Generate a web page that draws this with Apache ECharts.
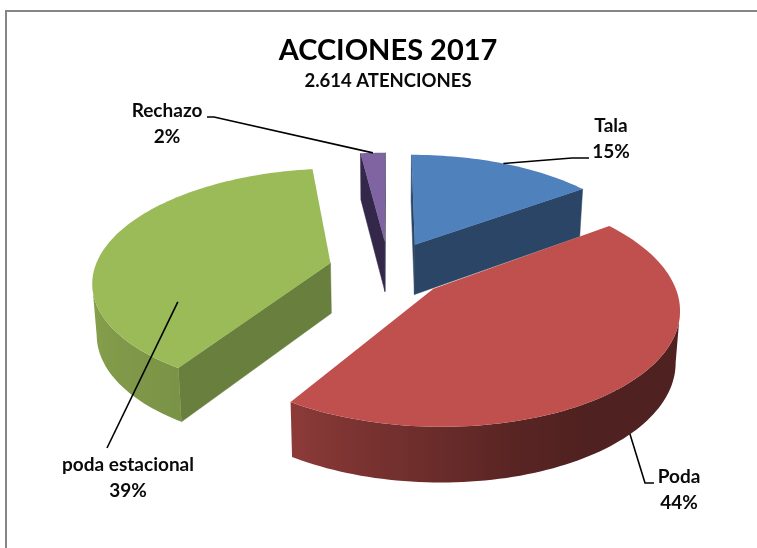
<!DOCTYPE html>
<html>
<head>
<meta charset="utf-8">
<style>html,body{margin:0;padding:0;background:#fff}#c{width:757px;height:548px}</style>
<script src="https://cdn.jsdelivr.net/npm/echarts@6/dist/echarts.min.js"></script>
</head>
<body>
<div id="c"></div>
<script>
// ---- data ----
var titleText = 'ACCIONES 2017';
var subtitleText = '2.614 ATENCIONES';
var categories = ['Tala', 'Poda', 'poda estacional', 'Rechazo'];
var percents = [15, 44, 39, 2];

// ---- styling (no data) ----
var topColors  = ['#4f81bd', '#c0504d', '#9bbb59', '#8064a2'];
var wallColors = ['#2a4565', '#4f2120', '#687f3d', '#33284a'];
var rimColors  = ['#4f81bd', '#c0504d', '#a8c960', '#8064a2'];
// brightness of the outer rim by pie angle (degrees clockwise from top)
var shadeAngles = [0, 148, 165, 190, 212, 270, 360];
var shadeValues = [0.41, 0.41, 0.46, 0.6, 0.73, 0.82, 0.82];

// ---- 3D pie projection ----
var view = { cx: 388.5, cy: 269, R: 236, squash: 0.468, persp: 0.152, explode: 0.254, depth: 50.5, lowerScale: 0.985 };

// ---- label layout: where the text sits, and the leader's bend and end ----
var labelX = [611, 679, 128, 167];
var labelY = [139, 490, 478, 124];
var leaderBend = [[572, 158], [645, 483], null, [214, 117]];
var leaderEnd  = [[589, 158], [654, 483], [107, 448], [207, 117]];
var leaderAngleShift = [0, 6.8, -41.9, 0];   // degrees from the slice bisector
var leaderRadius = [1, 1, 0.695, 1];
var leaderBehind = [false, true, false, false];

var total = percents.reduce(function (a, b) { return a + b; }, 0);
var rad = Math.PI / 180;

function project(u, v) {
  var w = 1 - view.persp * v;
  return { x: view.cx + view.R * u / w, y: view.cy + view.R * view.squash * v / w, w: w };
}
function upper(p) { return [p.x, p.y]; }
function lower(p) {
  return [view.cx + (p.x - view.cx) * view.lowerScale, p.y + view.depth / Math.sqrt(p.w)];
}
function shadeAt(a) {
  for (var i = 1; i < shadeAngles.length; i++) {
    if (a <= shadeAngles[i]) {
      var t = (a - shadeAngles[i - 1]) / (shadeAngles[i] - shadeAngles[i - 1]);
      return shadeValues[i - 1] + t * (shadeValues[i] - shadeValues[i - 1]);
    }
  }
  return shadeValues[shadeValues.length - 1];
}
function shadeColor(hex, f) {
  var n = parseInt(hex.slice(1), 16);
  return 'rgb(' + Math.round((n >> 16 & 255) * f) + ',' + Math.round((n >> 8 & 255) * f) + ',' + Math.round((n & 255) * f) + ')';
}

function renderSlice(params, api) {
  var i = params.dataIndex;
  var value = api.value(1);
  var before = 0;
  for (var k = 0; k < i; k++) before += percents[k];
  var a0 = before / total * 360, a1 = a0 + value / total * 360, mid = (a0 + a1) / 2;
  var ex = view.explode * Math.sin(mid * rad), ey = -view.explode * Math.cos(mid * rad);
  var at = function (a, r) {
    return project(ex + r * Math.sin(a * rad), ey - r * Math.cos(a * rad));
  };
  var apex = project(ex, ey);
  var arc = [], arcAngles = [];
  for (var a = a0; a < a1; a += 1.5) { arc.push(at(a, 1)); arcAngles.push(a); }
  arc.push(at(a1, 1)); arcAngles.push(a1);

  var base = Math.round(-Math.cos(mid * rad) * 100) + 200;
  var children = [];
  var addRadialWall = function (p, q) {
    if (q.x - p.x >= 0) return;
    children.push({
      type: 'polygon', z2: base,
      shape: { points: [upper(p), upper(q), lower(q), lower(p)] },
      style: { fill: wallColors[i], stroke: wallColors[i], lineWidth: 0.5 }
    });
  };
  addRadialWall(apex, arc[0]);
  addRadialWall(arc[arc.length - 1], apex);

  // outer rim: the part of the arc that faces the viewer, one smooth shape
  var vis = [];
  for (var s = 0; s < arc.length - 1; s++) {
    if (arc[s + 1].x - arc[s].x < 0) {
      if (!vis.length) vis.push(s);
      vis.push(s + 1);
    }
  }
  if (vis.length > 1) {
    var rimTop = vis.map(function (j) { return upper(arc[j]); });
    var rimBottom = vis.map(function (j) { return lower(arc[j]); }).reverse();
    var xs = rimTop.concat(rimBottom).map(function (q) { return q[0]; });
    var xMin = Math.min.apply(null, xs), xMax = Math.max.apply(null, xs);
    var stops = vis.map(function (j) {
      return {
        offset: Math.max(0, Math.min(1, (arc[j].x - xMin) / (xMax - xMin))),
        color: shadeColor(rimColors[i], shadeAt(arcAngles[j]))
      };
    }).sort(function (p, q) { return p.offset - q.offset; });
    children.push({
      type: 'polygon', z2: base + 1,
      shape: { points: rimTop.concat(rimBottom) },
      style: {
        fill: new echarts.graphic.LinearGradient(xMin, 0, xMax, 0, stops, true)
      }
    });
  }
  children.push({
    type: 'polygon', z2: base + 2,
    shape: { points: [upper(apex)].concat(arc.map(upper)) },
    style: { fill: topColors[i] }
  });

  // leader line
  var anchor = upper(at(mid + leaderAngleShift[i], leaderRadius[i]));
  var line = [anchor];
  if (leaderBend[i]) line.push(leaderBend[i]);
  line.push(leaderEnd[i]);
  children.push({
    type: 'polyline', z2: leaderBehind[i] ? base - 1 : 900,
    shape: { points: line },
    style: { fill: 'none', stroke: '#000', lineWidth: 1.6 }
  });
  // label
  children.push({
    type: 'text', z2: 901,
    style: {
      x: labelX[i], y: labelY[i],
      text: api.value(0) + '\n' + value + '%',
      align: 'center', verticalAlign: 'middle',
      fill: '#0a0a0a', font: 'bold 19px Lato, "Open Sans", sans-serif', lineHeight: 26
    }
  });
  return { type: 'group', children: children };
}

var chart = echarts.init(document.getElementById('c'), null, { renderer: 'canvas' });
chart.setOption({
  animation: false,
  backgroundColor: '#ffffff',
  title: {
    text: titleText, subtext: subtitleText,
    left: 383, top: 31, textAlign: 'center', itemGap: 7,
    textStyle: { fontFamily: 'Lato', fontWeight: 'bold', fontSize: 29, color: '#000' },
    subtextStyle: { fontFamily: 'Lato', fontWeight: 'bold', fontSize: 18.5, color: '#0a0a0a' }
  },
  graphic: [
    { type: 'line', shape: { x1: 5, y1: 11, x2: 757, y2: 11 }, style: { stroke: '#868686', lineWidth: 2 } },
    { type: 'line', shape: { x1: 6, y1: 10, x2: 6, y2: 548 }, style: { stroke: '#868686', lineWidth: 2 } }
  ],
  series: [{
    type: 'custom',
    coordinateSystem: 'none',
    silent: true,
    encode: { value: 1 },
    data: categories.map(function (name, i) { return [name, percents[i]]; }),
    renderItem: renderSlice
  }]
});
</script>
</body>
</html>
